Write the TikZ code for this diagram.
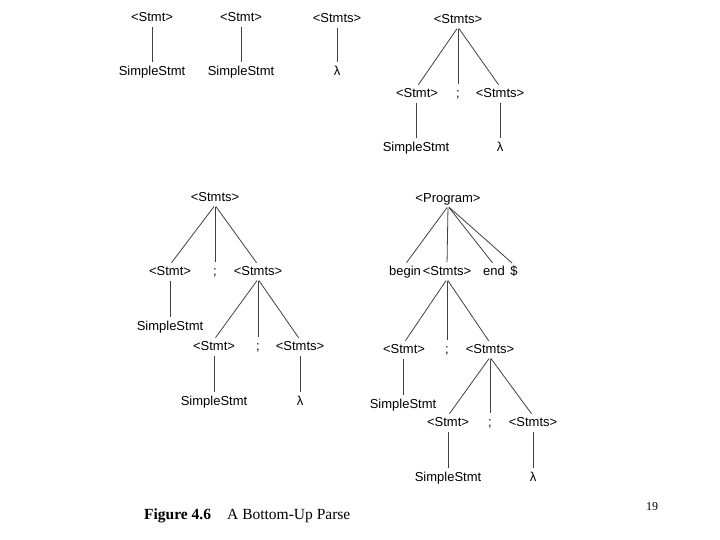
\documentclass[tikz,border=0pt]{standalone}
\usepackage{fontspec}
\setmainfont{Liberation Serif}
\newfontfamily\treefont{Liberation Sans}
\tikzset{
  sym/.style={font=\treefont\fontsize{13}{15}\selectfont, inner sep=0.8pt, text height=9.5pt, text depth=3pt},
  edge/.style={draw=black!75, line width=0.8pt, shorten <=1.5pt, shorten >=2.5pt},
}
\begin{document}
\begin{tikzpicture}[x=1pt,y=-1pt]
\useasboundingbox (0,0) rectangle (720,540);
% Tree 1
\node[sym] (a1) at (152,18) {<Stmt>};
\node[sym] (a2) at (152,72) {SimpleStmt};
\draw[edge] (a1) -- (a2);
% Tree 2
\node[sym] (b1) at (241,18) {<Stmt>};
\node[sym] (b2) at (241,72) {SimpleStmt};
\draw[edge] (b1) -- (b2);
% Tree 3
\node[sym] (c1) at (337,19) {<Stmts>};
\node[sym] (c2) at (337,72) {λ};
\draw[edge] (c1) -- (c2);
% Tree 4
\node[sym] (d0) at (458,20) {<Stmts>};
\node[sym] (d1) at (417,94) {<Stmt>};
\node[sym] (d2) at (458,94) {;};
\node[sym] (d3) at (500,94) {<Stmts>};
\node[sym] (d4) at (416,148) {SimpleStmt};
\node[sym] (d5) at (500,148) {λ};
\draw[edge] (d0.south) -- (d1.north);
\draw[edge] (d0.south) -- (d2.north);
\draw[edge] (d0.south) -- (d3.north);
\draw[edge] (d4.north |- d1.south) -- (d4.north);
\draw[edge] (d3.south) -- (d5.north);
% Tree 5
\node[sym] (e0) at (215,198) {<Stmts>};
\node[sym] (e1) at (170,272) {<Stmt>};
\node[sym] (e2) at (215,272) {;};
\node[sym] (e3) at (258,272) {<Stmts>};
\node[sym] (e4) at (170,327) {SimpleStmt};
\node[sym] (e5) at (214,347) {<Stmt>};
\node[sym] (e6) at (258,347) {;};
\node[sym] (e7) at (300,347) {<Stmts>};
\node[sym] (e8) at (214,402) {SimpleStmt};
\node[sym] (e9) at (300,402) {λ};
\draw[edge] (e0.south) -- (e1.north);
\draw[edge] (e0.south) -- (e2.north);
\draw[edge] (e0.south) -- (e3.north);
\draw[edge] (e1.south) -- (e4.north);
\draw[edge] (e3.south) -- (e5.north);
\draw[edge] (e3.south) -- (e6.north);
\draw[edge] (e3.south) -- (e7.north);
\draw[edge] (e5.south) -- (e8.north);
\draw[edge] (e7.south) -- (e9.north);
% Tree 6
\node[sym] (f0) at (448,199) {<Program>};
\node[sym] (f1) at (405,272) {begin};
\node[sym] (f2) at (447,272) {<Stmts>};
\node[sym] (f3) at (494,272) {end};
\node[sym] (f4) at (514,272) {\$};
\node[sym] (f5) at (404,350) {<Stmt>};
\node[sym] (f6) at (447,350) {;};
\node[sym] (f7) at (490,350) {<Stmts>};
\node[sym] (f8) at (403,405) {SimpleStmt};
\node[sym] (f9) at (448,423) {<Stmt>};
\node[sym] (f10) at (490,423) {;};
\node[sym] (f11) at (533,423) {<Stmts>};
\node[sym] (f12) at (448,478) {SimpleStmt};
\node[sym] (f13) at (533,478) {λ};
\draw[edge] (f0.south) -- (f1.north);
\draw[edge] (f0.south) -- (f2.north);
\draw[edge] (f0.south) -- (f3.north);
\draw[edge] (f0.south) -- (f4.north);
\draw[edge] (f2.south) -- (f5.north);
\draw[edge] (f2.south) -- (f6.north);
\draw[edge] (f2.south) -- (f7.north);
\draw[edge] (f8.north |- f5.south) -- (f8.north);
\draw[edge] (f7.south) -- (f9.north);
\draw[edge] (f7.south) -- (f10.north);
\draw[edge] (f7.south) -- (f11.north);
\draw[edge] (f9.south) -- (f12.north);
\draw[edge] (f11.south) -- (f13.north);
% Caption
\node[font=\fontsize{15.5}{18}\selectfont\bfseries, anchor=base west, inner sep=0pt] (capa) at (144,519) {Figure 4.6};
\node[font=\fontsize{15.5}{18}\selectfont, anchor=base west, inner sep=0pt] (capb) at (227,519) {A Bottom-Up Parse};
\node[font=\fontsize{12}{14}\selectfont, anchor=base, inner sep=0pt] (pg) at (652,510) {19};
\end{tikzpicture}
\end{document}
